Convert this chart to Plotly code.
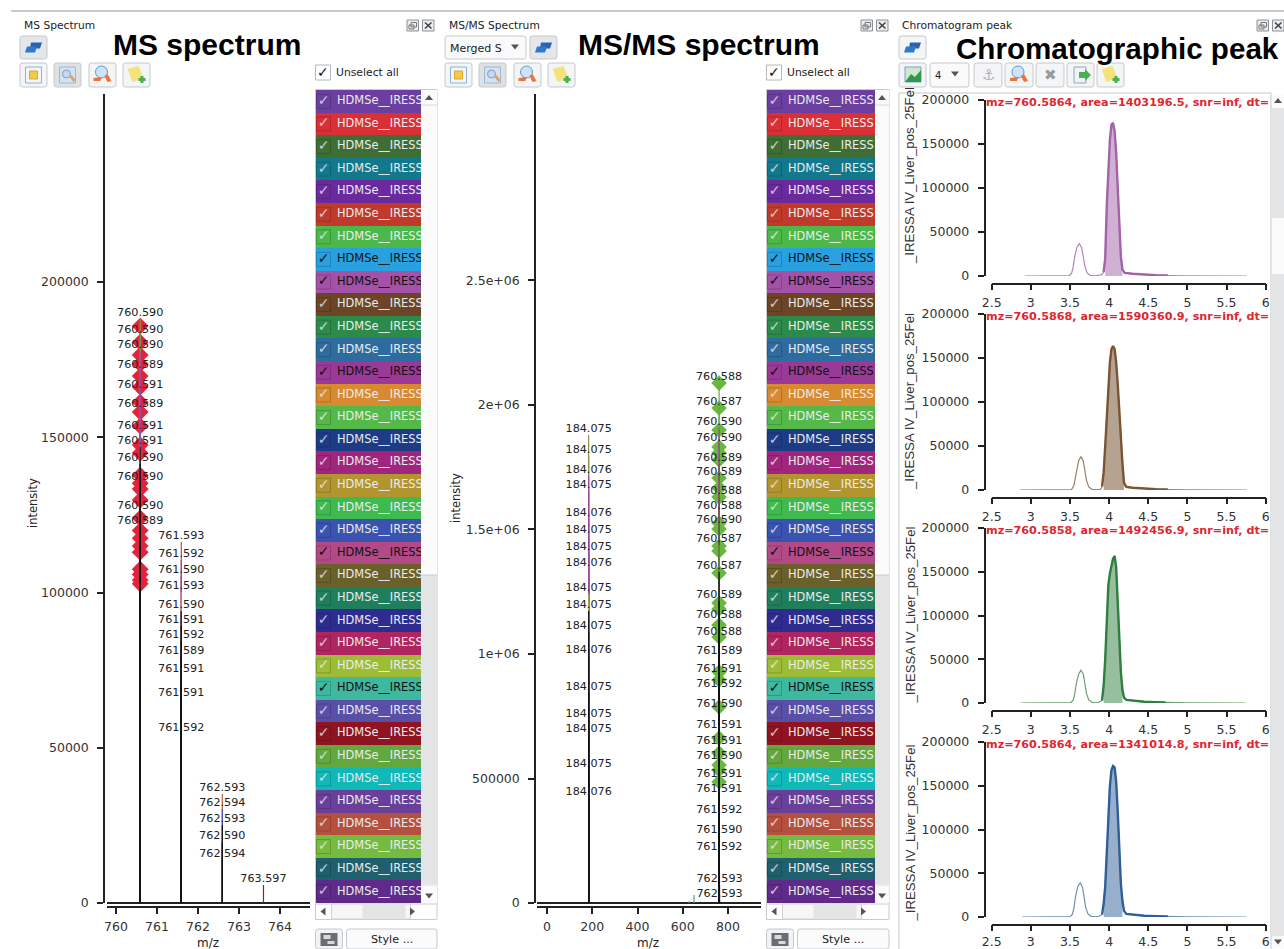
import plotly.graph_objects as go

W, H = 1284, 949
def PX(x): return x / W
def PY(y): return 1 - y / H

# ---------- data ----------
ms_peak_labels = ["760.590","760.590","760.590","760.589","760.591","760.589","760.591","760.591","760.590","760.590","760.590","760.589",
                  "761.593","761.592","761.590","761.593","761.590","761.591","761.592","761.589","761.591","761.591","761.592",
                  "762.593","762.594","762.593","762.590","762.594","763.597"]
ms_peak_heights = [188000,182600,177800,171300,164900,158800,151700,146900,141400,135300,125900,121100,
                   116300,110500,105300,100100,94000,89200,84400,79200,73400,65700,54400,
                   35100,30300,25100,19600,13850,5800]
ms_stem_colors = ["#8f9a3c","#6d9a55","#a0479a","#a0479a","#a0479a","#a0479a","#7a63b0","#222222","#111111","#111111","#111111","#111111",
                  "#a8457f","#a8457f","#a8457f","#b39b45","#111111","#111111","#111111","#111111","#111111","#111111","#111111",
                  "#b0602f","#4a45b0","#111111","#111111","#111111","#7a3020"]
ms_diamonds_mz = [760.59] * 24
ms_diamonds = [185800,180600,176500,173600,169700,166200,161300,158100,153600,147500,144900,137800,135200,133300,129800,124000,
               120000,117500,115000,113000,107500,105800,104000,102800]

msms_low_labels = ["184.075","184.075","184.076","184.075","184.076","184.075","184.075","184.076","184.075","184.075","184.075","184.076",
                   "184.075","184.075","184.075","184.075","184.076"]
msms_low_heights = [1879500,1795000,1715000,1654600,1542000,1474000,1405600,1341000,1241000,1172700,1088000,992000,843000,735000,674700,534000,421700]
msms_low_colors = ["#8f8f45","#8f8f45","#a0479a","#a0479a","#a0479a","#a0479a","#a0479a","#a0479a","#a8a850","#111111","#111111","#111111","#111111","#111111","#111111","#111111","#111111"]

msms_high_labels = ["760.588","760.587","760.590","760.590","760.589","760.589","760.588","760.588","760.590","760.587","760.587","760.589","760.588","760.588",
                    "761.589","761.591","761.592","761.590","761.591","761.591","761.590","761.591","761.591","761.592","761.590","761.592","762.593","762.593"]
msms_high_heights = [2088000,1988000,1907000,1843000,1763000,1707000,1630000,1570000,1514000,1438000,1329000,1213000,1133000,1064000,
                     988000,915000,855000,775000,690000,626000,566000,494000,434000,350000,269000,201000,72000,12000]
msms_high_colors = ["#6fa845","#6fa845","#a0479a","#a0479a","#7a6040","#a0479a","#6f5a3a","#7a5a50","#3f6f3f","#6f8f45","#111111","#111111","#111111","#111111",
                    "#111111","#111111","#111111","#111111","#111111","#111111","#111111","#111111","#111111","#111111","#111111","#111111","#111111","#111111"]
msms_small_mz = [650, 628]
msms_small_heights = [32000, 8000]
msms_small_colors = ["#5a9a8a", "#b0a040"]
msms_diamonds_mz = [760.59] * 26
msms_diamonds = [2088000,1988000,1899500,1831000,1807000,1779000,1707000,1667000,1630000,1526000,1502000,1434000,1413600,1325000,
                 1205000,1181000,1116000,1068000,928000,895600,787000,662600,602400,554000,534000,486000]

ms_xticks = [760,761,762,763,764]
msms_xticks = [0,200,400,600,800]
ms_yticks = [0,50000,100000,150000,200000]
msms_yticks = [0,500000,1000000,1500000,2000000,2500000]
msms_yticktext = ["0","500000","1e+06","1.5e+06","2e+06","2.5e+06"]
rt_ticks = [2.5,3,3.5,4,4.5,5,5.5,6]
rt_ticktext = ["2.5","3","3.5","4","4.5","5","5.5","6"]
int_ticks = [0,50000,100000,150000,200000]

rt_a = [2.92,3.45,3.49,3.52,3.54,3.56,3.59,3.62,3.65,3.67,3.69,3.72,3.76,3.82,3.88,3.91,3.93,3.95,3.97,3.99,4.01,4.03,4.05,4.07,4.09,4.11,4.13,4.15,4.17,4.2,4.3,4.45,4.6,4.75,5.0,5.76]
int_a = [0,0,500,3000,10000,22000,33000,36800,32000,22000,11000,3500,800,200,500,1500,4500,20000,80000,125000,155000,172000,174000,165000,140000,100000,55000,22000,7000,3500,2500,1500,900,500,150,0]
rt_b = [2.86,3.48,3.52,3.55,3.57,3.59,3.61,3.64,3.67,3.69,3.71,3.74,3.78,3.84,3.89,3.91,3.93,3.95,3.97,3.99,4.01,4.03,4.05,4.07,4.09,4.11,4.13,4.15,4.17,4.19,4.22,4.3,4.45,4.6,4.75,5.0,5.76]
int_b = [0,0,500,5000,13000,24000,33000,37900,33000,22000,11000,3500,800,300,600,4000,20000,50000,85000,115000,145000,160000,163600,160000,145000,120000,85000,55000,30000,8000,3500,2500,1500,900,500,150,0]
rt_c = [2.87,3.47,3.51,3.54,3.56,3.58,3.61,3.64,3.67,3.69,3.71,3.74,3.78,3.83,3.87,3.91,3.93,3.95,3.97,3.99,4.01,4.03,4.05,4.07,4.09,4.11,4.13,4.15,4.17,4.19,4.22,4.3,4.45,4.6,4.72,5.0,5.74]
int_c = [0,0,500,3000,10000,22000,33000,37500,33000,22000,11000,3500,800,200,800,3000,20000,50000,100000,135000,148000,158000,165000,168000,155000,115000,68000,35000,15000,6000,3500,2500,1500,900,500,150,0]
rt_d = [2.89,3.46,3.50,3.53,3.55,3.57,3.60,3.63,3.66,3.68,3.70,3.73,3.77,3.83,3.87,3.91,3.93,3.95,3.97,3.99,4.01,4.03,4.05,4.07,4.09,4.11,4.13,4.15,4.17,4.19,4.22,4.3,4.45,4.6,4.75,5.0,5.75]
int_d = [0,0,500,3000,10000,23000,35000,39000,34000,23000,11000,3500,800,200,800,3000,15000,35000,75000,120000,150000,168000,172500,171000,155000,120000,75000,38000,18000,7000,3500,2500,1500,900,500,150,0]
peak_titles = ["mz=760.5864, area=1403196.5, snr=inf, dt=","mz=760.5868, area=1590360.9, snr=inf, dt=",
               "mz=760.5858, area=1492456.9, snr=inf, dt=","mz=760.5864, area=1341014.8, snr=inf, dt="]
peak_line_colors = ["#a463a8","#7a5535","#2f7f3f","#2f5f98"]
peak_fill_colors = ["rgba(164,99,168,0.5)","rgba(122,85,53,0.55)","rgba(47,127,63,0.5)","rgba(47,95,152,0.5)"]
peak_thin_colors = ["#b684bb","#9a8068","#6a9f70","#6f8fb5"]

row_colors = ["#6b3fa0","#d92f35","#3f6e35","#12798c","#6a2a9e","#c0392b","#4cb84a","#29a0e0","#a452a8","#6b4526","#2c8a4a","#2e6ca0",
              "#9a3a96","#d88a30","#55b94a","#1d3c85","#a0257c","#b3952f","#3fba4f","#3a52b0","#b34a88","#6b5f2a","#1f7f5c","#2f2c90",
              "#b0245f","#9cbd35","#3fb8a0","#5a4fa6","#8d1420","#62a83e","#10b8b8","#6a3f9a","#b5503f","#74bb3f","#1f5f6e","#5f2a8a"]
dark_check_rows = [7, 8, 12, 20, 26]
row_label = "HDMSe__IRESS"

TICK = dict(family="DejaVu Sans", size=12.5, color="#333333")
LAB = dict(family="DejaVu Sans", size=11.2, color="#222222")
AX = "#222222"

fig = go.Figure()
shapes, annots = [], []

def stems(xs, tops, cols, xa, ya):
    for x, v, c in zip(xs, tops, cols):
        fig.add_trace(go.Scatter(x=[x, x], y=[0, v], mode="lines", line=dict(color=c, width=1.2),
                                 xaxis=xa, yaxis=ya, showlegend=False, hoverinfo="skip"))

def dias(xs, ys, col, size, xa, ya):
    fig.add_trace(go.Scatter(x=xs, y=ys, mode="markers", marker=dict(symbol="diamond", color=col, size=size, line=dict(width=0)),
                             xaxis=xa, yaxis=ya, showlegend=False, hoverinfo="skip"))

def texts(xs, ys, labels, xa, ya):
    fig.add_trace(go.Scatter(x=xs, y=ys, text=labels, mode="text", textposition="top center", textfont=LAB, cliponaxis=False,
                             xaxis=xa, yaxis=ya, showlegend=False, hoverinfo="skip"))

# MS panel
ms_x = [float(s) for s in ms_peak_labels]
dias(ms_diamonds_mz, ms_diamonds, "#e3223c", 13, "x", "y")
stems(ms_x, ms_peak_heights, ms_stem_colors, "x", "y")
texts(ms_x, ms_peak_heights, ms_peak_labels, "x", "y")

# MS/MS panel
low_x = [float(s) for s in msms_low_labels]
high_x = [float(s) for s in msms_high_labels]
dias(msms_diamonds_mz, msms_diamonds, "#69b83e", 12, "x2", "y2")
stems(low_x, msms_low_heights, msms_low_colors, "x2", "y2")
stems(high_x, msms_high_heights, msms_high_colors, "x2", "y2")
stems(msms_small_mz, msms_small_heights, msms_small_colors, "x2", "y2")
texts(low_x, msms_low_heights, msms_low_labels, "x2", "y2")
texts(high_x, msms_high_heights, msms_high_labels, "x2", "y2")

# sample lists
def sample_list(xa, ya, width, text_x):
    rows = list(range(len(row_colors)))
    fig.add_trace(go.Bar(x=[width]*len(rows), y=rows, orientation="h", width=1, marker=dict(color=row_colors, line=dict(width=0)),
                         xaxis=xa, yaxis=ya, showlegend=False, hoverinfo="skip"))
    dark = [r in dark_check_rows for r in rows]
    fig.add_trace(go.Scatter(x=[8.5]*len(rows), y=rows, mode="markers",
                             marker=dict(symbol="square-open", size=14, color="rgba(0,0,0,0.18)", line=dict(width=1)),
                             xaxis=xa, yaxis=ya, showlegend=False, hoverinfo="skip"))
    fig.add_trace(go.Scatter(x=[8.5]*len(rows), y=rows, text=["\u2713"]*len(rows), mode="text", textposition="middle center",
                             textfont=dict(family="DejaVu Sans", size=14, weight="bold", color=["#111111" if d else "rgba(235,235,235,0.8)" for d in dark]),
                             xaxis=xa, yaxis=ya, showlegend=False, hoverinfo="skip"))
    fig.add_trace(go.Scatter(x=[text_x]*len(rows), y=rows, text=[row_label]*len(rows), mode="text", textposition="middle right",
                             textfont=dict(family="DejaVu Sans", size=11.4, color=["#111111" if d else "#ececec" for d in dark]),
                             xaxis=xa, yaxis=ya, showlegend=False, hoverinfo="skip"))
sample_list("x3", "y3", 106, 22)
sample_list("x4", "y4", 109, 22)

# chromatograms
chrom = [(rt_a,int_a,3.93,4.75,3.95,4.17),(rt_b,int_b,3.91,4.75,3.93,4.19),(rt_c,int_c,3.91,4.72,3.93,4.17),(rt_d,int_d,3.91,4.75,3.93,4.17)]
for i, (rt, it, h0, h1, f0, f1) in enumerate(chrom):
    xa, ya = f"x{i+5}", f"y{i+5}"
    fx = [r for r in rt if f0 <= r <= f1]
    fy = [v for r, v in zip(rt, it) if f0 <= r <= f1]
    fig.add_trace(go.Scatter(x=fx, y=fy, mode="lines", fill="tozeroy", fillcolor=peak_fill_colors[i], line=dict(width=0),
                             xaxis=xa, yaxis=ya, showlegend=False, hoverinfo="skip"))
    fig.add_trace(go.Scatter(x=rt, y=it, mode="lines", line=dict(color=peak_thin_colors[i], width=1.2),
                             xaxis=xa, yaxis=ya, showlegend=False, hoverinfo="skip"))
    hx = [r for r in rt if h0 <= r <= h1]
    hy = [v for r, v in zip(rt, it) if h0 <= r <= h1]
    fig.add_trace(go.Scatter(x=hx, y=hy, mode="lines", line=dict(color=peak_line_colors[i], width=2.4),
                             xaxis=xa, yaxis=ya, showlegend=False, hoverinfo="skip"))

layout = dict(width=W, height=H, margin=dict(l=0, r=0, t=0, b=0), paper_bgcolor="white", plot_bgcolor="white",
              showlegend=False, barmode="overlay", bargap=0)

def xaxis_cfg(x0, x1, vmin, vmax, line_y, vals, text=None, standoff=2):
    return dict(domain=[PX(x0), PX(x1)], range=[vmin, vmax], anchor="free", position=PY(line_y), side="bottom", showgrid=False, zeroline=False,
                automargin=False, showline=True, linecolor=AX, linewidth=1.5, ticks="outside", ticklen=6, tickwidth=1.5, tickcolor=AX,
                tickmode="array", tickvals=vals, ticktext=text if text else [str(v) for v in vals], tickfont=TICK, ticklabelstandoff=standoff)
def yaxis_cfg(y_top, y_bot, vmax, line_x, vals, text=None, zero=True):
    return dict(domain=[PY(y_bot), PY(y_top)], range=[0, vmax], anchor="free", position=PX(line_x), side="left", showgrid=False,
                zeroline=zero, zerolinecolor=AX, zerolinewidth=1.5, automargin=False,
                showline=True, linecolor=AX, linewidth=1.5, ticks="outside", ticklen=6, tickwidth=1.5, tickcolor=AX,
                tickmode="array", tickvals=vals, ticktext=text if text else [str(v) for v in vals], tickfont=TICK, ticklabelstandoff=6)

layout["xaxis"] = xaxis_cfg(107, 310, 760+(107-116)/41, 760+(310-116)/41, 907, ms_xticks)
layout["yaxis"] = yaxis_cfg(94, 903, (903-94)*322.06, 104, ms_yticks)
layout["xaxis2"] = xaxis_cfg(537, 761, (537-547)/0.22625, (761-547)/0.22625, 907, msms_xticks)
layout["yaxis2"] = yaxis_cfg(94, 903, (903-94)*4016, 535, msms_yticks, msms_yticktext)

hidden = dict(showgrid=False, zeroline=False, showline=False, showticklabels=False, ticks="", anchor="free", automargin=False)
layout["xaxis3"] = dict(domain=[PX(315), PX(421)], range=[0, 106], **hidden)
layout["yaxis3"] = dict(domain=[PY(903), PY(90)], range=[35.5, -0.5], **hidden)
layout["xaxis4"] = dict(domain=[PX(766), PX(875)], range=[0, 109], **hidden)
layout["yaxis4"] = dict(domain=[PY(903), PY(90)], range=[35.5, -0.5], **hidden)

title_shift = [-12, 0, 0, 4]
for i, (top, zero) in enumerate([(100, 276), (314, 490), (528, 703), (742, 917)]):
    n = i + 5
    layout[f"xaxis{n}"] = xaxis_cfg(991.7, 1265.7, 2.5, 6, zero + 7.5, rt_ticks, rt_ticktext, standoff=0 if i == 3 else 2)
    layout[f"yaxis{n}"] = yaxis_cfg(top, zero, 200000, 984.5, int_ticks, zero=False)
    annots.append(dict(x=PX(910), y=PY((top + zero) / 2 + title_shift[i]), xref="paper", yref="paper", text="_IRESSA IV_Liver_pos_25Fel", textangle=-90,
                       showarrow=False, xanchor="center", yanchor="middle", font=dict(family="Liberation Sans", size=13.2, color="#333333")))
    annots.append(dict(x=PX(984), y=PY(top + 2.5), xref="paper", yref="paper", text=peak_titles[i], showarrow=False, xanchor="left", yanchor="middle",
                       font=dict(family="DejaVu Sans", size=11.2, color="#e0262e", weight="bold")))

# ---------- chrome ----------
def txt(x, y, s, size=11, color="#222222", family="DejaVu Sans", anchor="left", bold=False, angle=0):
    f = dict(family=family, size=size, color=color)
    if bold: f["weight"] = "bold"
    if anchor == "left": x -= 2
    annots.append(dict(x=PX(x), y=PY(y), xref="paper", yref="paper", text=s, showarrow=False, xanchor=anchor, yanchor="middle", font=f, textangle=angle))

def rect(x0, y0, x1, y1, fill=None, line=None, lw=1):
    shapes.append(dict(type="rect", xref="paper", yref="paper", x0=PX(x0), x1=PX(x1), y0=PY(y0), y1=PY(y1),
                       fillcolor=fill or "rgba(0,0,0,0)", line=dict(color=line or "rgba(0,0,0,0)", width=lw if line else 0)))

def hline(x0, x1, y, color, lw=1):
    shapes.append(dict(type="line", xref="paper", yref="paper", x0=PX(x0), x1=PX(x1), y0=PY(y), y1=PY(y), line=dict(color=color, width=lw)))

def poly(pts, fill):
    d = "M " + " L ".join(f"{PX(x):.5f} {PY(y):.5f}" for x, y in pts) + " Z"
    shapes.append(dict(type="path", xref="paper", yref="paper", path=d, fillcolor=fill, line=dict(width=0)))

def circle(cx, cy, r, fill, line=None):
    shapes.append(dict(type="circle", xref="paper", yref="paper", x0=PX(cx-r), x1=PX(cx+r), y0=PY(cy+r), y1=PY(cy-r), fillcolor=fill,
                       line=dict(color=line or fill, width=1)))

def button(x0, y0, x1, y1, fill="#f4f5f6"):
    r = 2.5
    d = (f"M {PX(x0+r):.5f} {PY(y0):.5f} L {PX(x1-r):.5f} {PY(y0):.5f} Q {PX(x1):.5f} {PY(y0):.5f} {PX(x1):.5f} {PY(y0+r):.5f} "
         f"L {PX(x1):.5f} {PY(y1-r):.5f} Q {PX(x1):.5f} {PY(y1):.5f} {PX(x1-r):.5f} {PY(y1):.5f} "
         f"L {PX(x0+r):.5f} {PY(y1):.5f} Q {PX(x0):.5f} {PY(y1):.5f} {PX(x0):.5f} {PY(y1-r):.5f} "
         f"L {PX(x0):.5f} {PY(y0+r):.5f} Q {PX(x0):.5f} {PY(y0):.5f} {PX(x0+r):.5f} {PY(y0):.5f} Z")
    shapes.append(dict(type="path", xref="paper", yref="paper", path=d, fillcolor=fill, line=dict(color="#c4c8cc", width=1)))

def icon_stack(cx, cy):
    poly([(cx-3, cy-5), (cx+8, cy-5), (cx+6, cy+1), (cx-4, cy+1)], "#2a62b0")
    poly([(cx-7, cy-1), (cx+3, cy-1), (cx+1, cy+5), (cx-9, cy+5)], "#2f78cc")

def icon_fit(cx, cy):
    rect(cx-8, cy-8, cx+8, cy+8, None, "#8db4d8", 1)
    rect(cx-4, cy-4, cx+4, cy+4, "#f2c94c", "#d9a82a", 1)

def icon_zoomrect(cx, cy):
    rect(cx-8, cy-8, cx+8, cy+8, "#d8e2ee", "#9db8d4", 1)
    circle(cx-1, cy-1, 4, "#c6d8ee", "#7aa0c8")
    poly([(cx+2, cy+2), (cx+4, cy), (cx+8, cy+5), (cx+6, cy+7)], "#e0a060")

def icon_zoom(cx, cy):
    circle(cx-1, cy-3, 6, "#cfe2f6", "#5f9ad0")
    poly([(cx+2, cy+1), (cx+5, cy-1), (cx+9, cy+6), (cx+5, cy+7)], "#e8743a")
    poly([(cx-9, cy+3), (cx-1, cy+2), (cx-2, cy+6), (cx-9, cy+6)], "#e8743a")

def icon_note(cx, cy):
    poly([(cx-9, cy-6), (cx+2, cy-9), (cx+7, cy+3), (cx-4, cy+7)], "#f4e27a")
    rect(cx+2, cy+3, cx+9, cy+6, "#4caf50")
    rect(cx+4, cy+1, cx+7, cy+8, "#4caf50")

def win_icons(x):
    for xx in (x, x + 15.5):
        rect(xx, 20, xx + 11.5, 31, "#eceeef", "#8b8f93", 1)
    rect(x + 2, 25, x + 7, 29, None, "#777777", 1)
    rect(x + 4, 22.5, x + 9.5, 27, None, "#777777", 1)
    shapes.append(dict(type="line", xref="paper", yref="paper", x0=PX(x+18), x1=PX(x+24.5), y0=PY(22.5), y1=PY(28.5), line=dict(color="#444444", width=1.6)))
    shapes.append(dict(type="line", xref="paper", yref="paper", x0=PX(x+18), x1=PX(x+24.5), y0=PY(28.5), y1=PY(22.5), line=dict(color="#444444", width=1.6)))

def tri(cx, cy, up, col="#555555", s=4):
    if up == "u": poly([(cx-s, cy+2.5), (cx+s, cy+2.5), (cx, cy-2.5)], col)
    if up == "d": poly([(cx-s, cy-2.5), (cx+s, cy-2.5), (cx, cy+2.5)], col)
    if up == "l": poly([(cx+2.5, cy-s), (cx+2.5, cy+s), (cx-2.5, cy)], col)
    if up == "r": poly([(cx-2.5, cy-s), (cx-2.5, cy+s), (cx+2.5, cy)], col)

def list_frame(x0, x_sb0, x1):
    rect(x0, 89.5, x1, 919.5, None, "#c9cccf", 1)
    rect(x_sb0, 90, x1, 903, "#fbfbfb")
    rect(x_sb0, 575, x1, 884, "#e3e4e5")
    hline(x_sb0, x1, 105, "#d8dadb")
    hline(x_sb0, x1, 575, "#c8cacc")
    hline(x_sb0, x1, 885, "#d8dadb")
    tri((x_sb0+x1)/2, 97.5, "u")
    tri((x_sb0+x1)/2, 896, "d")
    hline(x0, x1, 904, "#c9cccf")
    rect(x0+16, 904, x0+95, 919, "#f6f6f6", "#d0d2d4", 1)
    rect(x0+47, 904, x0+90, 919, "#e3e4e5")
    tri(x0+7.5, 911.5, "l")
    tri(x0+97, 911.5, "r")
    # bottom buttons
    button(x0, 929, x0+27, 949, "#f2f3f4")
    rect(x0+5, 933, x0+22, 946, "#6a6e72")
    rect(x0+8, 935, x0+15, 939, "#d8dadb")
    rect(x0+12, 941, x0+19, 944, "#d8dadb")
    button(x0+31, 929, x1, 949, "#fbfbfb")
    txt((x0+31+x1)/2, 939.5, "Style ...", 11.2, anchor="center")
    # unselect
    rect(x0, 65, x0+15, 80, "#ffffff", "#b5b8bb", 1)
    txt(x0+7.5, 72.5, "\u2713", 14, "#111111", anchor="center", bold=True)
    txt(x0+20.5, 73, "Unselect all", 10.8)

# global top line
hline(11, W, 11, "#b8b8b8", 1.5)

# panel 1 chrome
txt(24, 25.5, "MS Spectrum", 10.7)
win_icons(407)
button(20, 36, 47, 59, "#e3e7ea"); icon_stack(34, 47.5)
for bx, fn, fl in [(20, icon_fit, "#f4f5f6"), (54, icon_zoomrect, "#dfe2e5"), (89, icon_zoom, "#f4f5f6"), (123, icon_note, "#f4f5f6")]:
    button(bx, 63, bx + 27, 87, fl); fn(bx + 13.5, 75)
list_frame(315.5, 421, 437)

# panel 2 chrome
txt(449, 25.5, "MS/MS Spectrum", 10.7)
win_icons(861)
button(445, 36, 526, 59, "#fafafa")
txt(450, 48, "Merged S", 11)
tri(515, 47, "d")
button(530, 36, 557, 59, "#e3e7ea"); icon_stack(544, 47.5)
for bx, fn, fl in [(445, icon_fit, "#f4f5f6"), (479, icon_zoomrect, "#dfe2e5"), (514, icon_zoom, "#f4f5f6"), (548, icon_note, "#f4f5f6")]:
    button(bx, 63, bx + 27, 87, fl); fn(bx + 13.5, 75)
list_frame(766.5, 875, 889)

# panel 3 chrome
txt(902, 25, "Chromatogram peak", 10.7)
win_icons(1257)
button(899, 36, 926, 59, "#f4f5f6"); icon_stack(913, 47.5)
button(899, 63, 926, 87, "#f4f5f6")
rect(905, 67, 921, 82, "#cfe8cf", "#7aa0c8", 1)
poly([(905, 82), (911, 74), (915, 77), (921, 70), (921, 82)], "#2f9a4a")
button(930, 63, 969, 87, "#fafafa")
txt(935, 75.5, "4", 10)
tri(955, 74, "d")
button(974, 63, 1002, 87, "#f4f5f6")
txt(988, 75, "\u2693", 15, "#b0b4b8", anchor="center")
button(1005, 63, 1033, 87, "#f4f5f6"); icon_zoom(1019, 75)
button(1036, 63, 1064, 87, "#f4f5f6")
txt(1050, 75, "\u2716", 15, "#9a9a9a", anchor="center")
button(1067, 63, 1094, 87, "#f4f5f6")
rect(1074, 67, 1086, 83, "#eef3f8", "#90a8c0", 1)
poly([(1079, 72), (1085, 72), (1085, 69), (1091, 75), (1085, 81), (1085, 78), (1079, 78)], "#4caf50")
button(1097, 63, 1124, 87, "#f4f5f6"); icon_note(1110.5, 75)
rect(899, 93, 1271, 960, None, "#c4c7ca", 1)
rect(1272, 93, 1284, 949, "#e4e5e6")
rect(1272, 93, 1284, 108, "#fbfbfb")
rect(1272, 218, 1284, 274, "#fbfbfb")
rect(1272, 936, 1284, 949, "#fbfbfb")
tri(1278, 100.5, "u")
tri(1278, 942, "d")

# axis titles
txt(207.5, 942.5, "m/z", 12, anchor="center")
txt(648, 942.5, "m/z", 12, anchor="center")
txt(33, 503, "intensity", 11.5, anchor="center", angle=-90)
txt(456, 498, "intensity", 11.5, anchor="center", angle=-90)

# big titles
BIG = "Liberation Sans"
txt(207, 45, "MS spectrum", 30, "#000000", BIG, "center", True)
txt(699, 45, "MS/MS spectrum", 30, "#000000", BIG, "center", True)
txt(1117, 48, "Chromatographic peak", 29.6, "#000000", BIG, "center", True)

layout["shapes"] = shapes
layout["annotations"] = annots
fig.update_layout(**layout)
fig.write_html("out.html", config=dict(displayModeBar=False), post_script="document.body.style.margin='0';document.documentElement.style.overflow='hidden';")
